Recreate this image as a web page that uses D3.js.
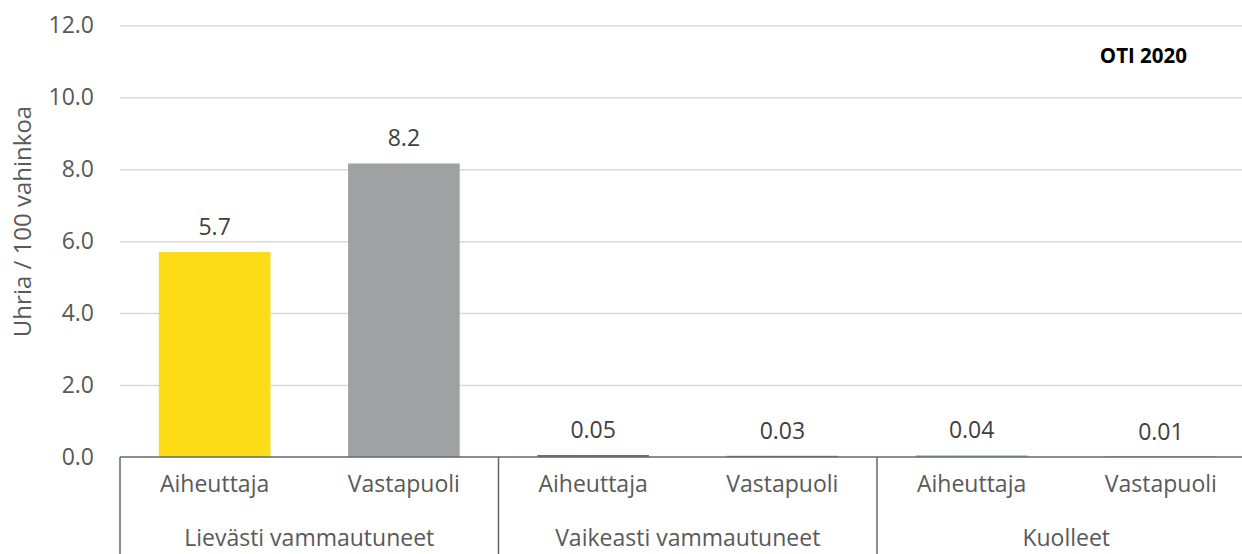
<!DOCTYPE html>
<html>
<head>
<meta charset="utf-8">
<script src="https://cdn.jsdelivr.net/npm/d3@7"></script>
<style>
  html, body { margin: 0; padding: 0; background: #fff; }
  svg { display: block; font-family: "Open Sans", "Noto Sans", sans-serif; }
</style>
</head>
<body>
<svg id="chart" width="1242" height="554"></svg>
<script>
// ---- data ----
const groups = ["Lievästi vammautuneet", "Vaikeasti vammautuneet", "Kuolleet"];
const roles = ["Aiheuttaja", "Vastapuoli"];
const aiheuttaja = [5.7, 0.05, 0.04];
const vastapuoli = [8.16, 0.03, 0.01];
const yTicks = [0, 2, 4, 6, 8, 10, 12];
const yTitle = "Uhria / 100 vahinkoa";
const note = "OTI 2020";

// ---- styles ----
const barColors = [
  ["#FBDC16", "#A0A1A3"],
  ["#56625F", "#66716F"],
  ["#7B9BD6", "#5E6858"]
];
const FS = "23px";

const W = 1242, H = 554;
const M = { left: 120, right: 1255.5, top: 25.4, bottom: 456.9 };

const svg = d3.select("#chart");

const x0 = d3.scaleBand().domain(groups).range([M.left, M.right]).padding(0);
const x1 = d3.scaleBand().domain(roles).range([0, x0.bandwidth()])
  .paddingInner(0.41).paddingOuter(0.205);
const y = d3.scaleLinear().domain([0, 12]).range([M.bottom, M.top]);

// gridlines + y labels
const yAxis = svg.append("g")
  .attr("transform", `translate(${M.left},0)`)
  .call(d3.axisLeft(y).tickValues(yTicks).tickFormat(d3.format(".1f"))
    .tickSize(-(M.right - M.left)).tickPadding(26));
yAxis.select(".domain").remove();
yAxis.selectAll(".tick line").attr("stroke", "#d9d9d9").attr("stroke-width", 1.5);
yAxis.selectAll(".tick text")
  .attr("fill", "#595959").attr("font-size", null).style("font-size", FS);
yAxis.attr("font-size", null).attr("font-family", null);
yAxis.selectAll(".tick").filter(d => d === 0).select("line").remove();

// y title
svg.append("text")
  .attr("transform", `translate(23,${(102 + 341) / 2}) rotate(-90)`)
  .attr("text-anchor", "middle").attr("dy", "0.35em")
  .attr("fill", "#595959").style("font-size", "24px")
  .text(yTitle);

// bars
const rows = groups.map((g, i) => ({ g, i, vals: [aiheuttaja[i], vastapuoli[i]] }));
const gg = svg.append("g").selectAll("g").data(rows).join("g")
  .attr("transform", d => `translate(${x0(d.g)},0)`);

gg.selectAll("rect").data(d => d.vals.map((v, j) => ({ v, role: roles[j], gi: d.i, j })))
  .join("rect")
  .attr("x", d => x1(d.role))
  .attr("width", x1.bandwidth())
  .attr("y", d => y(d.v))
  .attr("height", d => y(0) - y(d.v))
  .attr("fill", d => barColors[d.gi][d.j]);

gg.selectAll("text.val").data(d => d.vals.map((v, j) => ({ v, role: roles[j] })))
  .join("text").attr("class", "val")
  .attr("x", d => x1(d.role) + x1.bandwidth() / 2)
  .attr("y", d => y(d.v) - 17)
  .attr("text-anchor", "middle")
  .attr("fill", "#404040").style("font-size", FS)
  .text(d => d.v >= 1 ? d3.format(".1f")(d.v) : d3.format(".2f")(d.v));

// baseline
svg.append("line")
  .attr("x1", M.left).attr("x2", M.right)
  .attr("y1", y(0)).attr("y2", y(0))
  .attr("stroke", "#5F6A6A").attr("stroke-width", 1.5);

// group separators
svg.append("g").selectAll("line").data(groups).join("line")
  .attr("x1", d => x0(d)).attr("x2", d => x0(d))
  .attr("y1", y(0)).attr("y2", H)
  .attr("stroke", "#5F6A6A").attr("stroke-width", 1.5);

// category labels
gg.selectAll("text.role").data(roles).join("text").attr("class", "role")
  .attr("x", d => x1(d) + x1.bandwidth() / 2)
  .attr("y", 491.5)
  .attr("text-anchor", "middle")
  .attr("fill", "#595959").style("font-size", FS)
  .text(d => d);

gg.append("text")
  .attr("x", x0.bandwidth() / 2)
  .attr("y", 546)
  .attr("text-anchor", "middle")
  .attr("fill", "#595959").style("font-size", FS)
  .text(d => d.g);

// note
svg.append("text")
  .attr("x", 1187).attr("y", 63)
  .attr("text-anchor", "end")
  .attr("fill", "#000").style("font-size", "20.5px").style("font-weight", "bold")
  .text(note);
</script>
</body>
</html>
